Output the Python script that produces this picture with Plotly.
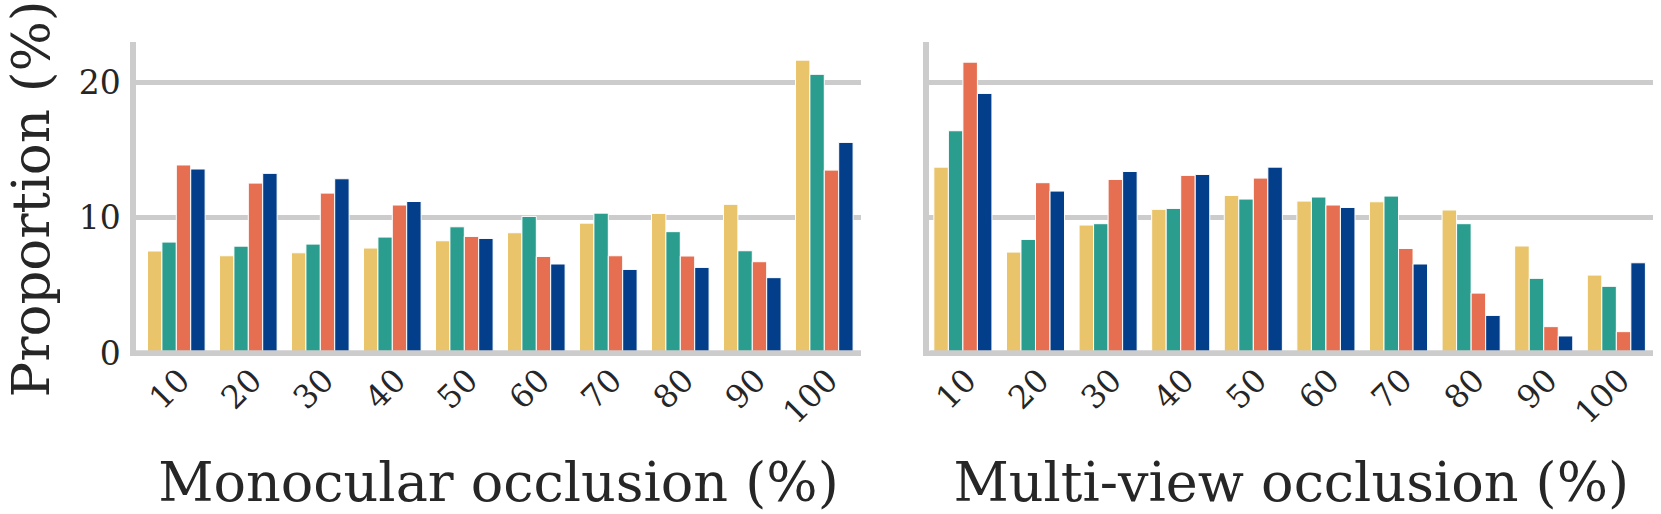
import plotly.graph_objects as go

categories = ["10", "20", "30", "40", "50", "60", "70", "80", "90", "100"]

series_names = ["Series A", "Series B", "Series C", "Series D"]
series_colors = ["#E9C46A", "#2A9D8F", "#E76F51", "#023E8A"]

mono_a = [7.54, 7.19, 7.41, 7.76, 8.30, 8.89, 9.60, 10.32, 10.99, 21.65]
mono_b = [8.20, 7.90, 8.05, 8.57, 9.33, 10.10, 10.34, 8.97, 7.56, 20.60]
mono_c = [13.90, 12.56, 11.82, 10.94, 8.62, 7.14, 7.19, 7.17, 6.75, 13.52]
mono_d = [13.60, 13.28, 12.88, 11.20, 8.47, 6.58, 6.18, 6.33, 5.57, 15.57]

multi_a = [13.74, 7.46, 9.46, 10.62, 11.65, 11.23, 11.18, 10.57, 7.91, 5.76]
multi_b = [16.43, 8.40, 9.56, 10.69, 11.38, 11.53, 11.60, 9.56, 5.52, 4.93]
multi_c = [21.50, 12.59, 12.83, 13.13, 12.93, 10.94, 7.73, 4.43, 1.95, 1.58]
multi_d = [19.19, 11.97, 13.42, 13.20, 13.74, 10.76, 6.58, 2.78, 1.26, 6.67]

x_titles = ["Monocular occlusion (%)", "Multi-view occlusion (%)"]
y_title = "Proportion (%)"
y_ticks = [0, 10, 20]

FONT = "DejaVu Serif"
TXT = "#262626"
GRID = "#cccccc"
LW = 5.5

fig = go.Figure()
panels = [("x", "y", [mono_a, mono_b, mono_c, mono_d]),
          ("x2", "y2", [multi_a, multi_b, multi_c, multi_d])]
for xa, ya, vals in panels:
    for name, col, v in zip(series_names, series_colors, vals):
        fig.add_trace(go.Bar(
            x=categories, y=v, name=name, xaxis=xa, yaxis=ya,
            marker=dict(color=col, line=dict(color="white", width=1)),
            showlegend=False,
        ))

common_x = dict(
    type="category", showgrid=False, zeroline=False, showline=False,
    ticks="", tickangle=-45,
    tickfont=dict(family=FONT, size=32, color=TXT),
    ticklabelshift=4, ticklabelstandoff=-2,
)
common_y = dict(
    range=[-0.22, 22.99], tickvals=y_ticks, showgrid=True, gridcolor=GRID,
    gridwidth=5, zeroline=False, showline=True, linecolor=GRID,
    linewidth=LW, ticks="", tickfont=dict(family=FONT, size=33, color=TXT),
    domain=[0, 1],
)
title_font = dict(family=FONT, size=54, color=TXT)

fig.update_layout(
    width=1661, height=514,
    margin=dict(l=136, r=8, t=42, b=158),
    paper_bgcolor="white", plot_bgcolor="white",
    barmode="group", bargap=0.2, bargroupgap=0,
    font=dict(family=FONT, color=TXT),
    xaxis=dict(domain=[0, 0.47792], anchor="y", range=[-0.56, 9.51],
               title=dict(text=x_titles[0], font=title_font, standoff=33),
               **common_x),
    xaxis2=dict(domain=[0.52307, 1.0], anchor="y2", range=[-0.46, 9.505],
                title=dict(text=x_titles[1], font=title_font, standoff=33),
                **common_x),
    yaxis=dict(anchor="x", ticklabelstandoff=3,
               title=dict(text=y_title, font=dict(family=FONT, size=53, color=TXT),
                          standoff=30),
               **common_y),
    yaxis2=dict(anchor="x2", matches="y", showticklabels=False, **common_y),
)

# bottom spines at y = 0, drawn above the bars like the reference
for xd, yr in (("x domain", "y"), ("x2 domain", "y2")):
    fig.add_shape(type="line", xref=xd, x0=0, x1=1, yref=yr, y0=0, y1=0,
                  line=dict(color=GRID, width=LW), layer="above")

fig.write_html("out.html", config={"displayModeBar": False},
               post_script="document.body.style.margin='0px';")
